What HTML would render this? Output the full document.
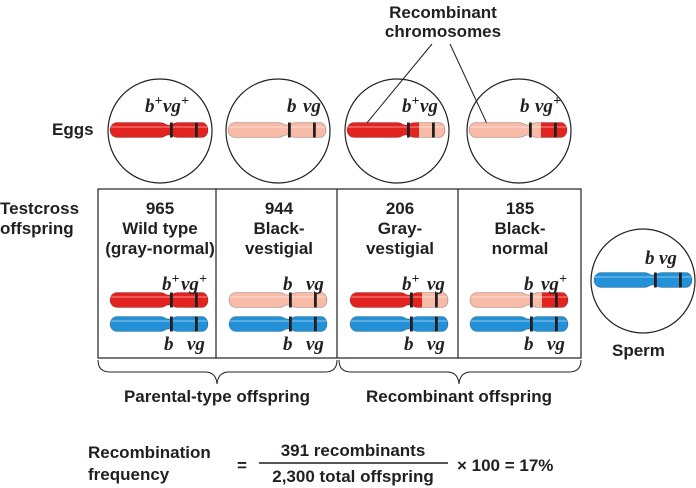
<!DOCTYPE html>
<html><head><meta charset="utf-8"><style>
body{margin:0;background:#fff}
svg{display:block}
.s{font-family:"Liberation Sans",sans-serif;font-weight:bold;fill:#231f20}
.g{font-family:"Liberation Serif",serif;font-weight:bold;font-style:italic;fill:#231f20;font-size:19px}
</style></head><body>
<svg id="fig" width="696" height="488" viewBox="0 0 696 488">
<text class="s" font-size="17" x="443" y="18" text-anchor="middle">Recombinant</text>
<text class="s" font-size="17" x="443" y="37" text-anchor="middle">chromosomes</text>
<line x1="432" y1="44" x2="366" y2="124" stroke="#231f20" stroke-width="1"/>
<line x1="450" y1="44" x2="488" y2="126" stroke="#231f20" stroke-width="1"/>
<text class="s" font-size="17" x="52" y="135">Eggs</text>
<text class="s" font-size="17" x="0" y="214">Testcross</text>
<text class="s" font-size="17" x="0" y="234">offspring</text>
<text class="s" font-size="17" x="612" y="356">Sperm</text>
<rect x="98" y="189" width="483" height="169" fill="none" stroke="#231f20" stroke-width="1.2"/>
<line x1="216" y1="189" x2="216" y2="358" stroke="#231f20" stroke-width="1.2"/>
<line x1="337" y1="189" x2="337" y2="358" stroke="#231f20" stroke-width="1.2"/>
<line x1="458" y1="189" x2="458" y2="358" stroke="#231f20" stroke-width="1.2"/>
<path d="M98,360 Q98,372 110,372 L205,372 Q216,372 217,384 Q218,372 229,372 L325,372 Q337,372 337,360" fill="none" stroke="#231f20" stroke-width="1"/>
<path d="M339,360 Q339,372 351,372 L447,372 Q458,372 459,384 Q460,372 471,372 L569,372 Q581,372 581,360" fill="none" stroke="#231f20" stroke-width="1"/>
<text class="s" font-size="17" x="217" y="402" text-anchor="middle">Parental-type offspring</text>
<text class="s" font-size="17" x="459" y="402" text-anchor="middle">Recombinant offspring</text>
<text class="s" font-size="17" x="88" y="458">Recombination</text>
<text class="s" font-size="17" x="88" y="480">frequency</text>
<text class="s" font-size="17" x="237" y="471">=</text>
<text class="s" font-size="17" x="353" y="456" text-anchor="middle">391 recombinants</text>
<line x1="259" y1="463" x2="448" y2="463" stroke="#231f20" stroke-width="1.5"/>
<text class="s" font-size="17" x="353" y="482" text-anchor="middle">2,300 total offspring</text>
<text class="s" font-size="17" x="457" y="471">× 100 = 17%</text>
<g id="dyn"></g>
</svg>
<script>
const eggCenters=[160,278,397,519];
const counts=['965','944','206','185'];
const names=[['Wild type','(gray-normal)'],['Black-','vestigial'],['Gray-','vestigial'],['Black-','normal']];
const chromTypes=['RR','PP','RP','PR'];
const bPlus=[true,false,true,false];
const vgPlus=[true,false,false,true];
const colX=[110,229,350,470];
const NS='http://www.w3.org/2000/svg';
const g=document.getElementById('dyn');
const RED='#e3231f',PINK='#f7bba8',BLUE='#2291d8';
let cid=0;
function el(t,a,p){const e=document.createElementNS(NS,t);for(const k in a)e.setAttribute(k,a[k]);(p||g).appendChild(e);return e;}
function shape(x,cy){const L=98,h=7.5;return `M${x+7},${cy-h} L${x+50},${cy-h} C${x+55},${cy-h} ${x+55},${cy-5} ${x+59},${cy-5} C${x+63},${cy-5} ${x+63},${cy-h} ${x+68},${cy-h} L${x+L-6},${cy-h} A6 ${h} 0 0 1 ${x+L-6},${cy+h} L${x+68},${cy+h} C${x+63},${cy+h} ${x+63},${cy+5} ${x+59},${cy+5} C${x+55},${cy+5} ${x+55},${cy+h} ${x+50},${cy+h} L${x+7},${cy+h} A7 ${h} 0 0 1 ${x+7},${cy-h} Z`;}
function chrom(x,cy,c1,c2,name){
  const grp=el('g',{});
  
  
  const id='cp'+(cid++);
  const cp=el('clipPath',{id:id},grp);el('path',{d:shape(x,cy)},cp);
  el('path',{d:shape(x,cy),fill:c1},grp);
  el('rect',{x:x+72,y:cy-8,width:30,height:16,fill:c2,'clip-path':`url(#${id})`},grp);
  el('rect',{x:x,y:cy-4,width:100,height:2,fill:'#fff',opacity:0.25,'clip-path':`url(#${id})`},grp);
  el('path',{d:shape(x,cy),fill:'none',stroke:'rgba(0,0,0,0.25)','stroke-width':0.8},grp);
  el('rect',{x:x+60,y:cy-7.5,width:2.8,height:15,fill:'#231f20'},grp);
  el('rect',{x:x+85,y:cy-7.5,width:2.8,height:15,fill:'#231f20'},grp);
}
function geno(bx,vx,y,bp,vp,name){
  const t=el('text',{class:'g'});
  
  
  const a=el('tspan',{x:bx,y:y},t);a.textContent='b';
  if(bp){const s=el('tspan',{dy:-7,'font-size':14},t);s.textContent='+';}
  const v=el('tspan',{x:vx,y:y},t);v.textContent='vg';
  if(vp){const s=el('tspan',{dy:-7,'font-size':14},t);s.textContent='+';}
}
const col={R:RED,P:PINK};
eggCenters.forEach((cx,i)=>{
  const c=el('circle',{cx:cx,cy:131,r:52,fill:'none',stroke:'#231f20','stroke-width':1.2});
  
  
  const t=chromTypes[i];
  const x=cx-50;
  chrom(x,130,col[t[0]],col[t[1]],'egg-chromosome-'+(i+1));
  let bx,vx;
  if(bPlus[i]&&vgPlus[i]){bx=x+35;vx=x+53;}
  else if(bPlus[i]){bx=x+55;vx=x+73;}
  else if(vgPlus[i]){bx=x+51;vx=x+66;}
  else {bx=x+59;vx=x+75;}
  geno(bx,vx,112,bPlus[i],vgPlus[i],'egg-genotype-'+(i+1));
});
colX.forEach((x,i)=>{
  const cx=x+48;
  const a=el('text',{x:cx+2,y:214,'text-anchor':'middle',class:'s','font-size':17});a.textContent=counts[i];
  
  
  names[i].forEach((n,j)=>{const b=el('text',{x:cx+2,y:234+20*j,'text-anchor':'middle',class:'s','font-size':17});b.textContent=n;
    
    });
  const t=chromTypes[i];
  chrom(x,300,col[t[0]],col[t[1]],'offspring-maternal-chromosome-'+(i+1));
  chrom(x,324,BLUE,BLUE,'offspring-paternal-chromosome-'+(i+1));
  geno(bPlus[i]?x+52:x+54,vgPlus[i]?x+71:x+77,290,bPlus[i],vgPlus[i],'offspring-genotype-top-'+(i+1));
  geno(x+54,x+77,350,false,false,'offspring-genotype-bottom-'+(i+1));
});
const sc=el('circle',{cx:643,cy:281,r:52,fill:'none',stroke:'#231f20','stroke-width':1.2});


chrom(594,280,BLUE,BLUE,'sperm-chromosome');
geno(645,659,264,false,false,'sperm-genotype');
</script>
</body></html>
